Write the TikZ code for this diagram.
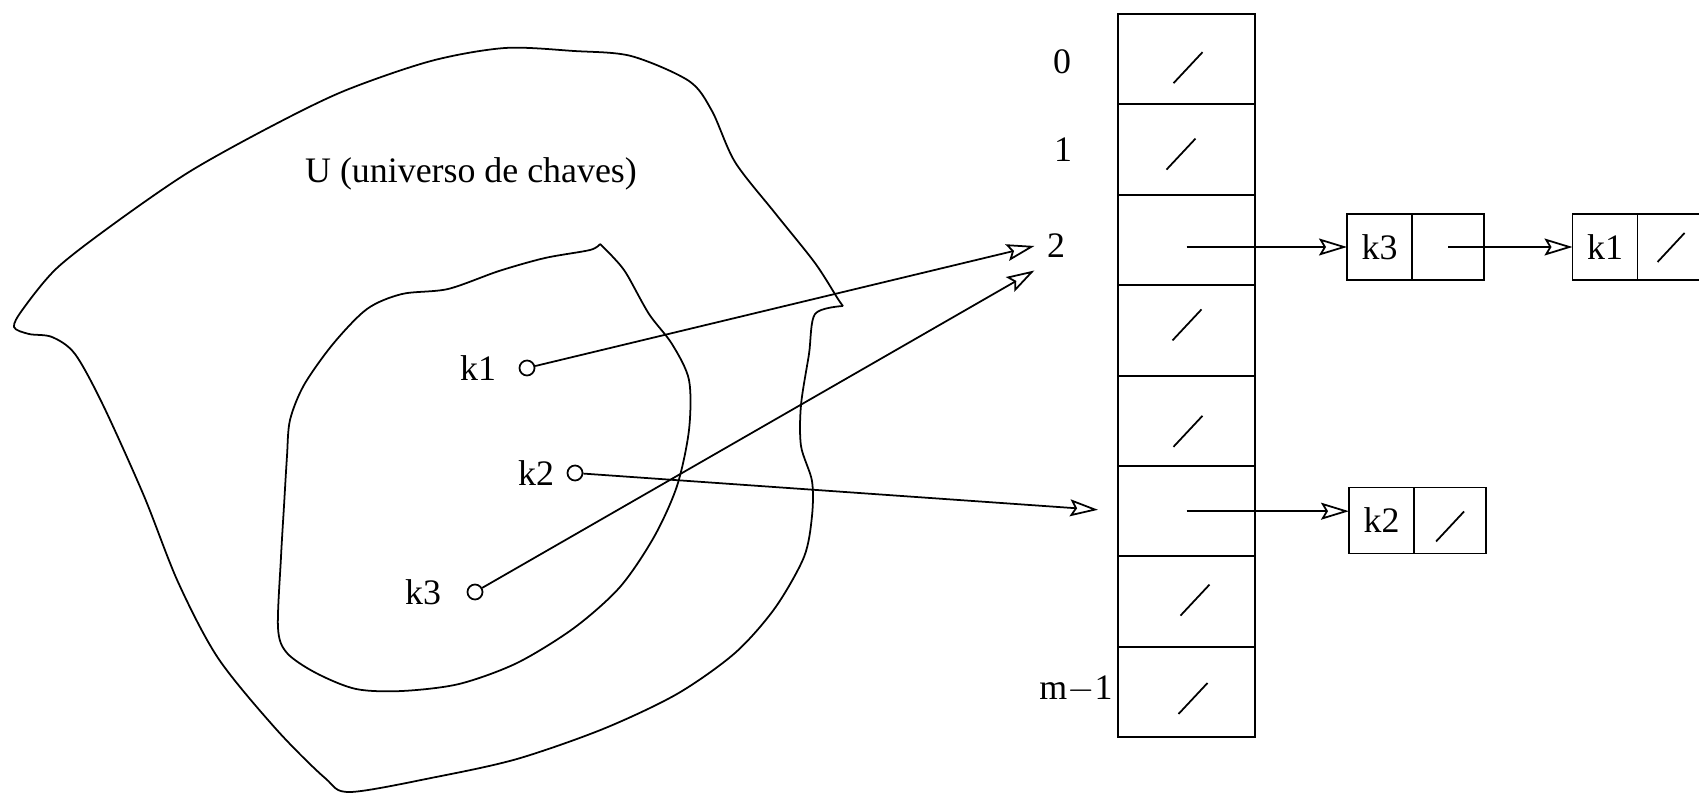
\documentclass[tikz,border=0pt]{standalone}
\usepackage{fontspec}
\setmainfont{Liberation Serif}
\usetikzlibrary{positioning,arrows.meta}

\tikzset{
    celula/.style={draw, minimum width=1.37cm, minimum height=0.904cm, inner sep=0pt, outer sep=0pt},
    chave/.style={draw, minimum width=0.65cm, minimum height=0.66cm, inner sep=0pt, outer sep=0pt},
    proximo/.style={draw, minimum width=0.72cm, minimum height=0.66cm, inner sep=0pt, outer sep=0pt},
    ponto/.style={draw, circle, minimum size=0.15cm, inner sep=0pt},
    seta/.style={-{Stealth[open, length=2.8mm, width=1.7mm, inset=0.5mm]}},
}

\begin{document}
\begin{tikzpicture}[x=0.01cm, y=-0.01cm, line width=0.5pt, font=\fontsize{10.2}{12}\selectfont]
    \useasboundingbox (0,0) rectangle (1699,794);

    % Universo e conjunto de chaves
    \draw plot[smooth] coordinates {(843,306) (815,314) (809,354) (801,405) (801,446) (812,481) (812,516) (804,557) (775,608) (735,653) (677,694) (603,729) (517,759) (436,777) (350,792) (325,778) (276,729) (218,658) (178,582) (144,496) (103,405) (75,354) (52,337) (29,334) (14,327) (23,309) (57,268) (115,223) (189,172) (270,127) (344,91) (431,61) (505,48) (574,51) (631,56) (689,81) (712,111) (735,162) (775,213) (815,263) (838,299) (843,306)};
    \draw plot[smooth] coordinates {(600,244) (612,256) (626,273) (649,314) (672,344) (689,380) (689,430) (677,486) (654,537) (620,587) (574,628) (517,663) (459,684) (402,691) (356,689) (316,673) (287,653) (278,628) (281,557) (284,506) (287,456) (290,420) (304,385) (333,344) (367,309) (402,294) (448,289) (499,271) (545,258) (590,250) (600,244)};
    \node (univ) at (471, 174) {U (universo de chaves)};

    % Chaves
    \node[ponto] (p1) at (527, 368) {};
    \node[ponto] (p2) at (575, 473) {};
    \node[ponto] (p3) at (475, 592) {};
    \node (t1) [left=0.1cm of p1] {k1};
    \node (t2) [left=0cm of p2] {k2};
    \node (t3) [left=0.13cm of p3] {k3};

    % Tabela
    \node[celula] (c0) at (1186.5, 59.2) {};
    \node[celula] (c1) at (1186.5, 149.6) {};
    \node[celula] (c2) at (1186.5, 240.0) {};
    \node[celula] (c3) at (1186.5, 330.4) {};
    \node[celula] (c4) at (1186.5, 420.8) {};
    \node[celula] (c5) at (1186.5, 511.2) {};
    \node[celula] (c6) at (1186.5, 601.6) {};
    \node[celula] (c7) at (1186.5, 692.0) {};
    \node (l0) at (1062, 62) {0};
    \node (l1) at (1063, 150) {1};
    \node (l2) at (1056, 246) {2};
    \node (lm) at (1076, 689) {m$-$1};

    % Ponteiros nulos
    \draw ([shift={(-13,24)}]c0.center) -- +(29,-31);
    \draw ([shift={(-20,20)}]c1.center) -- +(29,-31);
    \draw ([shift={(-14,10)}]c3.center) -- +(29,-31);
    \draw ([shift={(-13,26)}]c4.center) -- +(29,-31);
    \draw ([shift={(-6,14)}]c6.center) -- +(29,-31);
    \draw ([shift={(-8,22)}]c7.center) -- +(29,-31);

    % Listas
    \node[chave] (n3) at (1379.5, 247) {k3};
    \node[proximo] (n3p) [right=0pt of n3] {};
    \node[chave] (n1) at (1605, 247) {k1};
    \node[proximo] (n1p) [right=0pt of n1] {};
    \draw ([shift={(-16,15)}]n1p.center) -- +(27,-29);
    \node[chave] (n2) at (1381.5, 520.5) {k2};
    \node[proximo] (n2p) [right=0pt of n2] {};
    \draw ([shift={(-14,21)}]n2p.center) -- +(28,-30);

    % Setas
    \draw[seta] (p1) -- (l2.west);
    \draw[seta] (p3) -- (l2.south west);
    \draw[seta, shorten >=0.2cm] (p2) -- (c5.west);
    \draw[seta] (c2.center |- n3.west) -- (n3.west);
    \draw[seta] (n3p.center) -- (n1.west);
    \draw[seta] (c5.center) -- (c5.center -| n2.west);

\end{tikzpicture}
\end{document}
